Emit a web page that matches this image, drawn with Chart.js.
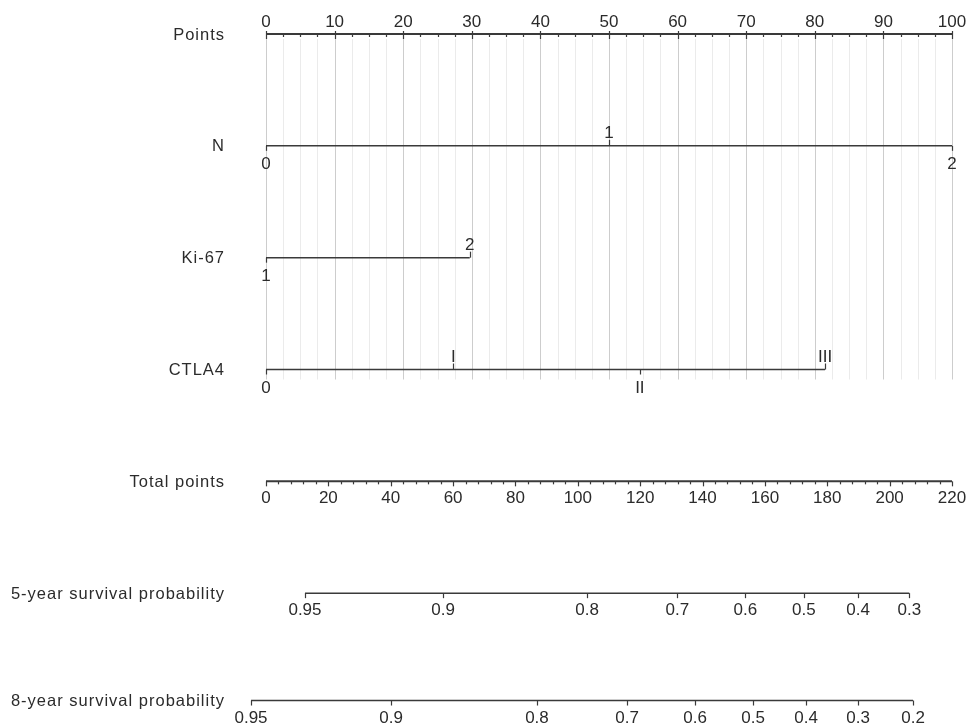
<!DOCTYPE html>
<html>
<head>
<meta charset="utf-8">
<script src="https://cdn.jsdelivr.net/npm/chart.js@4"></script>
<style>
  html, body { margin: 0; padding: 0; background: #fff; }
  #wrap { width: 970px; height: 727px; position: relative; }
</style>
</head>
<body>
<div id="wrap"><canvas id="nomo"></canvas></div>
<script>
// rows of the nomogram, top to bottom
const rowNames = ["Points", "N", "Ki-67", "CTLA4", "Total points",
  "5-year survival probability", "8-year survival probability"];
const rowPos = [0, 1, 2, 3, 4, 5, 5.96];

// points scale
const pointsTicks = [0, 10, 20, 30, 40, 50, 60, 70, 80, 90, 100];
const pointsMinorStep = 2.5;

// predictors: label -> points
const nLabels = ["0", "1", "2"];
const nPoints = [0, 50, 100];
const kiLabels = ["1", "2"];
const kiPoints = [0, 29.7];
const ctlaLabels = ["0", "I", "II", "III"];
const ctlaPoints = [0, 27.3, 54.5, 81.5];

// total points scale
const totalMax = 220;
const totalTicks = [0, 20, 40, 60, 80, 100, 120, 140, 160, 180, 200, 220];
const totalMinorStep = 4;

// survival probability -> total points
const surv5Labels = ["0.95", "0.9", "0.8", "0.7", "0.6", "0.5", "0.4", "0.3"];
const surv5Total = [12.5, 56.8, 103.0, 131.9, 153.7, 172.5, 189.9, 206.3];
const surv8Labels = ["0.95", "0.9", "0.8", "0.7", "0.6", "0.5", "0.4", "0.3", "0.2"];
const surv8Total = [-4.8, 40.1, 86.9, 115.8, 137.6, 156.2, 173.2, 189.9, 207.5];

const toPts = t => t * 100 / totalMax;

const lineColor = "#3a3a3a";
const textColor = "#2b2b2b";
const tickFont = '17px "Liberation Sans", Arial, sans-serif';
const rowFont = '16.5px "Liberation Sans", Arial, sans-serif';

// axis rows as [row, labels, positions in points units]
const factorRows = [
  [rowPos[1], nLabels, nPoints],
  [rowPos[2], kiLabels, kiPoints],
  [rowPos[3], ctlaLabels, ctlaPoints],
];
const survRows = [
  [rowPos[5], surv5Labels, surv5Total.map(toPts)],
  [rowPos[6], surv8Labels, surv8Total.map(toPts)],
];

function seg(row, from, to) {
  return [{ x: from, y: row }, { x: to, y: row }];
}

const datasets = [
  { data: seg(rowPos[0], 0, 100), borderWidth: 2 },
  ...factorRows.map(([r, , p]) => ({ data: seg(r, p[0], p[p.length - 1]), borderWidth: 1.5 })),
  { data: seg(rowPos[4], 0, 100), borderWidth: 2 },
  ...survRows.map(([r, , p]) => ({ data: seg(r, p[0], p[p.length - 1]), borderWidth: 1.5 })),
].map(d => Object.assign(d, {
  showLine: true, pointRadius: 0, borderColor: lineColor, fill: false,
}));

function vline(ctx, x, y1, y2) {
  ctx.beginPath();
  ctx.moveTo(Math.round(x) + 0.5, y1);
  ctx.lineTo(Math.round(x) + 0.5, y2);
  ctx.stroke();
}

const nomoPlugin = {
  id: "nomo",
  beforeDatasetsDraw(chart) {
    const { ctx, scales: { x, y } } = chart;
    const top = y.getPixelForValue(rowPos[0]) + 5;
    const bottom = y.getPixelForValue(rowPos[3]) + 10;
    ctx.save();
    ctx.lineWidth = 1;
    for (let v = 0; v <= 100; v += pointsMinorStep) {
      ctx.strokeStyle = v % 10 === 0 ? "#cdcdcd" : "#ebebeb";
      vline(ctx, x.getPixelForValue(v), top, bottom);
    }
    ctx.restore();
  },
  afterDatasetsDraw(chart) {
    const { ctx, scales: { x, y } } = chart;
    ctx.save();
    ctx.strokeStyle = lineColor;
    ctx.fillStyle = textColor;
    ctx.lineWidth = 1.2;

    // row titles
    ctx.font = rowFont;
    ctx.letterSpacing = "1px";
    ctx.textAlign = "right";
    ctx.textBaseline = "middle";
    rowNames.forEach((name, i) => {
      ctx.fillText(name, 225, y.getPixelForValue(rowPos[i]) + 1);
    });
    ctx.letterSpacing = "0px";

    ctx.font = tickFont;
    ctx.textAlign = "center";
    ctx.textBaseline = "alphabetic";
    const below = 22, above = 8;

    // points axis
    let yy = y.getPixelForValue(rowPos[0]);
    for (let v = 0; v <= 100; v += pointsMinorStep) {
      const major = pointsTicks.includes(v);
      vline(ctx, x.getPixelForValue(v), major ? yy - 3 : yy, yy + (major ? 5 : 3));
    }
    pointsTicks.forEach(v => ctx.fillText(String(v), x.getPixelForValue(v), yy - 7));

    // factor rows: labels alternate below / above
    factorRows.forEach(([r, labels, pts]) => {
      const py = y.getPixelForValue(r);
      labels.forEach((lab, i) => {
        const px = x.getPixelForValue(pts[i]);
        if (i % 2 === 0) {
          vline(ctx, px, py, py + 5);
          ctx.fillText(lab, px, py + below + 1);
        } else {
          vline(ctx, px, py - 6, py);
          ctx.fillText(lab, px, py - above);
        }
      });
    });

    // total points
    yy = y.getPixelForValue(rowPos[4]);
    for (let t = 0; t <= totalMax; t += totalMinorStep) {
      const major = totalTicks.includes(t);
      vline(ctx, x.getPixelForValue(toPts(t)), yy, yy + (major ? 5 : 3));
    }
    totalTicks.forEach(t => ctx.fillText(String(t), x.getPixelForValue(toPts(t)), yy + below));

    // survival rows
    survRows.forEach(([r, labels, pts]) => {
      const py = y.getPixelForValue(r);
      labels.forEach((lab, i) => {
        const px = x.getPixelForValue(pts[i]);
        vline(ctx, px, py, py + 5);
        ctx.fillText(lab, px, py + below);
      });
    });
    ctx.restore();
  },
};

new Chart(document.getElementById("nomo"), {
  type: "scatter",
  data: { datasets },
  options: {
    responsive: true,
    maintainAspectRatio: false,
    animation: false,
    layout: { padding: { left: 266, right: 18, top: 34, bottom: 22 } },
    scales: {
      x: { type: "linear", min: 0, max: 100, display: false },
      y: { type: "linear", min: 0, max: 6, reverse: true, display: false },
    },
    plugins: { legend: { display: false }, tooltip: { enabled: false } },
    clip: false,
  },
  plugins: [nomoPlugin],
});
</script>
</body>
</html>
